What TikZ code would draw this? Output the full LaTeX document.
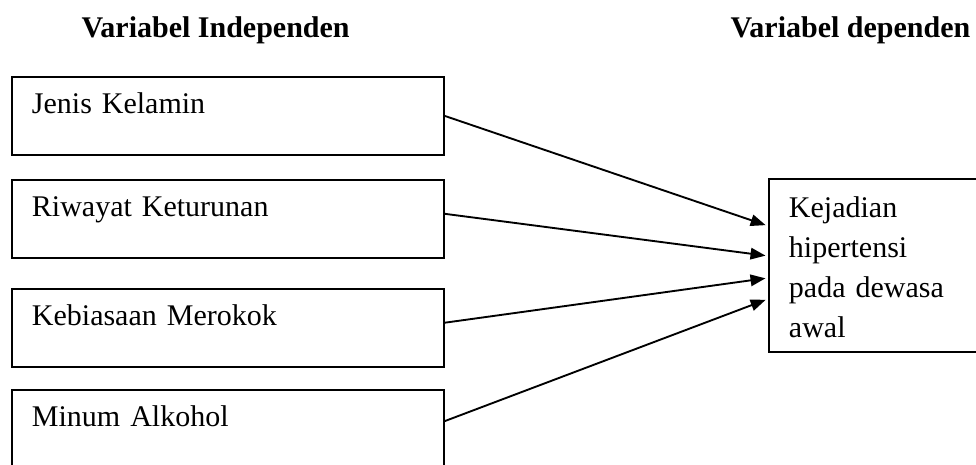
\documentclass[tikz,border=0pt]{standalone}
\usepackage{fontspec}
\setmainfont{Liberation Serif}
\usetikzlibrary{positioning, arrows.meta}
\newcommand{\diagfont}{\fontsize{12pt}{15.9pt}\selectfont}

\begin{document}
\begin{tikzpicture}[
    font=\diagfont,
    box/.style={draw, line width=0.75pt, anchor=north west,
      inner xsep=8pt, inner ysep=0pt},
    varbox/.style={box, text width=156.8pt, text height=14.8pt, text depth=16.4pt},
    header/.style={font=\diagfont\bfseries, anchor=base west, inner sep=0pt},
    arrow/.style={line width=0.75pt, -{Triangle[length=6pt,width=4.6pt]}, shorten >=1pt}
  ]
        \useasboundingbox (0,0) rectangle (390.4pt,-185.6pt);

        % Headers
        \node[header] (hind) at (32.4pt,-14.8pt) {Variabel Independen};
        \node[header] (hdep) at (292pt,-14.8pt) {Variabel dependen};

        % Independent variables
        \node[varbox] (x1) at (4.4pt,-30.4pt) {Jenis Kelamin};
        \node[varbox, below=9.2pt of x1] (x2) {Riwayat Keturunan};
        \node[varbox, below=11.6pt of x2] (x3) {Kebiasaan Merokok};
        \node[varbox, below=8.4pt of x3] (x4) {Minum Alkohol};

        % Dependent variable
        \node[box, text width=76pt, text height=15.6pt, text depth=53.6pt]
            (y) at (307.2pt,-71.2pt) {Kejadian\\hipertensi\\pada dewasa\\awal};

        % Connect the variables with arrows
        \path[arrow]
            (x1.east) edge ([yshift=15.8pt]y.west)
            ([yshift=2pt]x2.east) edge ([yshift=3.8pt]y.west)
            ([yshift=2pt]x3.east) edge ([yshift=-5pt]y.west)
            ([yshift=3pt]x4.east) edge ([yshift=-13.4pt]y.west);
\end{tikzpicture}
\end{document}
